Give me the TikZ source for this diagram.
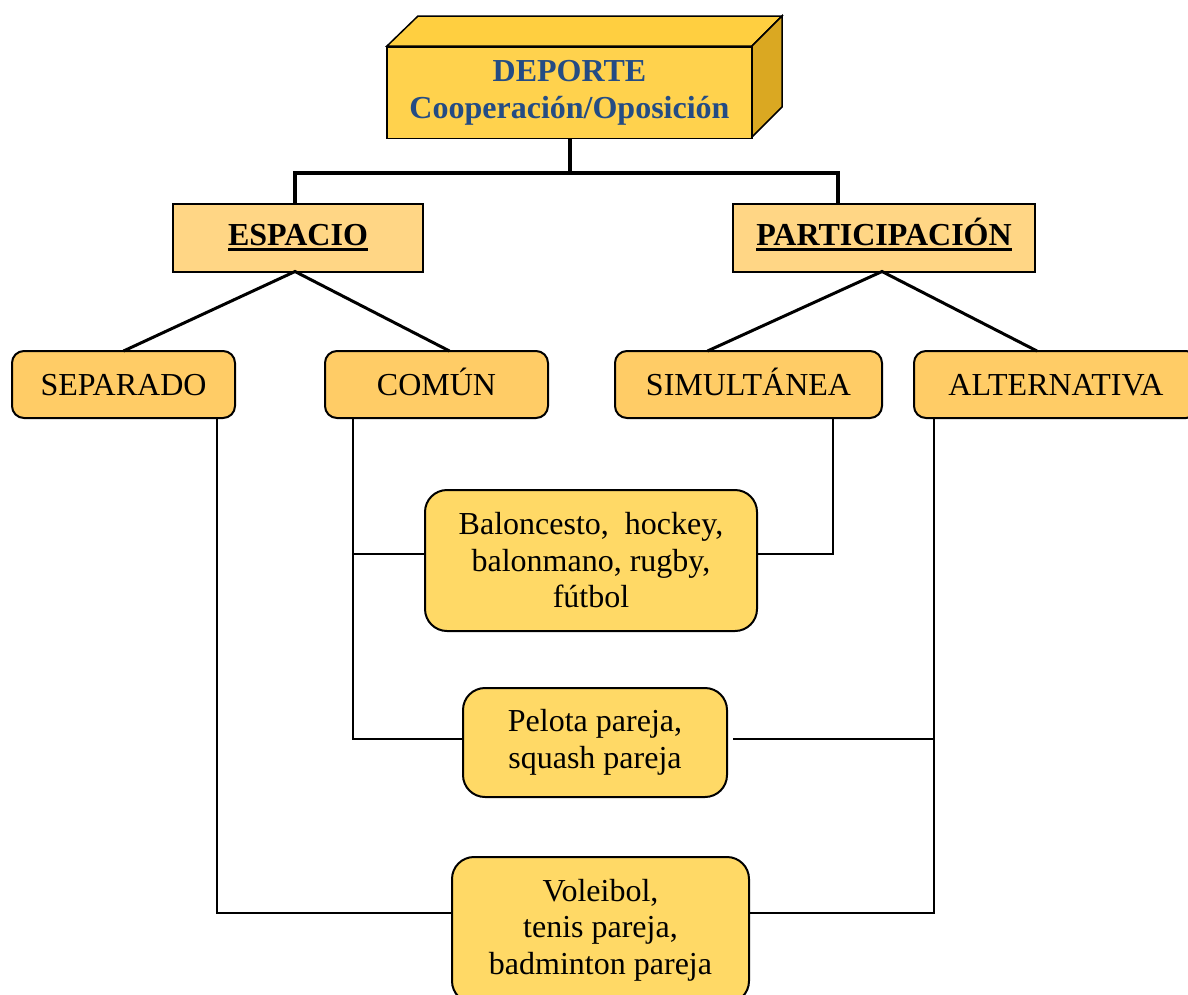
\documentclass[tikz,border=0pt]{standalone}
\usepackage{fontspec}
\setmainfont{Liberation Serif}
\usepackage{tikz}
\usetikzlibrary{positioning,calc}
\definecolor{goldfront}{RGB}{255,210,77}
\definecolor{goldtop}{RGB}{255,207,64}
\definecolor{goldside}{RGB}{218,168,34}
\definecolor{titleblue}{RGB}{36,76,132}
\definecolor{headfill}{RGB}{255,214,133}
\definecolor{kindfill}{RGB}{255,204,102}
\definecolor{sportfill}{RGB}{255,217,102}
\newsavebox\ulbox
\newcommand{\headul}[1]{\sbox\ulbox{#1}\rlap{\rule[-6pt]{\wd\ulbox}{3pt}}\usebox\ulbox}
\tikzstyle{topbox}=[draw,fill=goldfront,line width=1.5pt,inner sep=0pt,outer sep=0pt,align=center,text=titleblue,font=\bfseries\fontsize{32}{37}\selectfont]
\tikzstyle{headbox}=[draw,fill=headfill,line width=2pt,inner sep=0pt,outer sep=0pt,minimum height=68pt,text height=21pt,text depth=6pt,font=\bfseries\fontsize{32}{36}\selectfont]
\tikzstyle{kindbox}=[draw,fill=kindfill,rounded corners=12pt,line width=2pt,inner sep=0pt,outer sep=0pt,minimum height=67pt,text height=21pt,text depth=0pt,font=\fontsize{32}{36}\selectfont]
\tikzstyle{sportbox}=[draw,fill=sportfill,rounded corners=22pt,line width=2pt,inner sep=0pt,outer sep=0pt,align=center,font=\fontsize{32}{36.5}\selectfont]

\begin{document}
\begin{tikzpicture}[x=1pt,y=-1pt,line join=miter]
\useasboundingbox (0,0) rectangle (1188,994);
% top block, drawn as a box
\node[topbox,minimum width=365pt,minimum height=91pt] (dep) at (569.5,93) {DEPORTE\\Cooperación/Oposición};
\filldraw[fill=goldtop,line width=1.5pt] ([yshift=1.5pt]dep.north west) -- ++(31,-30) -- ++(364,0) -- ([yshift=1.5pt]dep.north east) -- cycle;
\filldraw[fill=goldside,line width=1.5pt] ([yshift=1.5pt]dep.north east) -- ++(30,-30) -- ++(0,91) -- ([yshift=1.5pt]dep.south east) -- cycle;

\node[headbox,minimum width=250pt] (esp) at (298,237.5) {\headul{ESPACIO}};
\node[headbox,minimum width=302pt] (par) at (884,237.5) {\headul{PARTICIPACIÓN}};

\node[kindbox,minimum width=223pt] (sep) at (123.5,384.5) {SEPARADO};
\node[kindbox,minimum width=223pt] (com) at (436.5,384.5) {COMÚN};
\node[kindbox,minimum width=267pt] (sim) at (748.5,384.5) {SIMULTÁNEA};
\node[kindbox,minimum width=284pt] (alt) at (1056,384.5) {ALTERNATIVA};

\node[sportbox,minimum width=332pt,minimum height=141pt] (bal) at (591,560.5) {Baloncesto,~ hockey,\\balonmano, rugby,\\fútbol};
\node[sportbox,minimum width=264pt,minimum height=109pt] (pel) at (595,742.5) {Pelota pareja,\\squash pareja};
\node[sportbox,minimum width=297pt,minimum height=146pt] (vol) at (600.5,930) {Voleibol,\\tenis pareja,\\badminton pareja};

\coordinate (sepdrop) at ([xshift=93pt]sep.south);
\coordinate (comdrop) at ([xshift=-84pt]com.south);
\coordinate (simdrop) at ([xshift=84pt]sim.south);
\coordinate (altdrop) at ([xshift=-122pt]alt.south);

% upper tree
\draw[line width=4pt] (dep.south) -- ++(0,34) coordinate (split);
\draw[line width=4pt] ([xshift=-3pt]esp.north) |- (split) -| ([xshift=-46pt]par.north);
\draw[line width=3pt] (sep.north) -- ([xshift=-3pt]esp.south) -- ([xshift=13pt]com.north);
\draw[line width=3pt] ([xshift=-41pt]sim.north) -- ([xshift=-2pt]par.south) -- ([xshift=-19pt]alt.north);

% links to the sports
\begin{scope}[line width=2pt]
\draw (sepdrop) |- ([yshift=17pt]vol.west);
\draw (comdrop) |- ([yshift=4pt]pel.west);
\draw ([yshift=7pt]bal.west) -| (comdrop);
\draw (simdrop) |- ([yshift=7pt]bal.east);
\draw (altdrop) |- ([yshift=17pt]vol.east);
\draw ([shift={(6pt,4pt)}]pel.east) -| (altdrop);
\end{scope}
\end{tikzpicture}
\end{document}
